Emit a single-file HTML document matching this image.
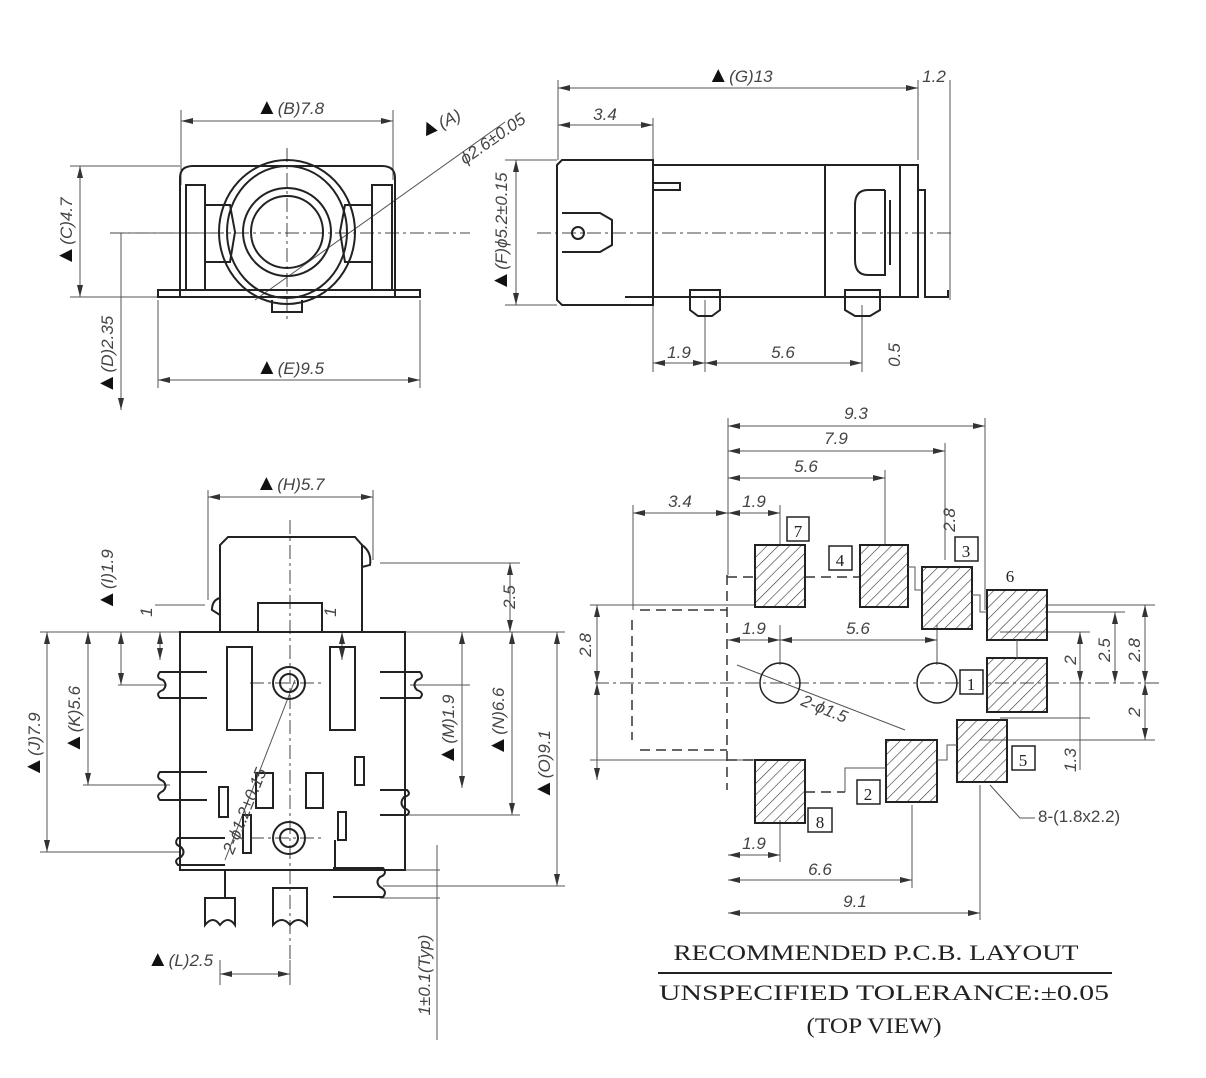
<!DOCTYPE html>
<html><head><meta charset="utf-8"><style>
html,body{margin:0;padding:0;background:#fff}
svg{display:block}
text{font-family:"Liberation Sans",sans-serif;font-style:italic;fill:#444;font-size:17px}
.s{font-family:"Liberation Serif",serif;font-style:normal;fill:#222}
.tr{font-size:22px;font-style:normal;fill:#111}
.o{fill:none;stroke:#222;stroke-width:2}
.t{fill:none;stroke:#555;stroke-width:1}
.d{fill:none;stroke:#444;stroke-width:1;stroke-dasharray:14 4 3 4}
.dd{fill:none;stroke:#333;stroke-width:1.5;stroke-dasharray:10 6}
.p{fill:url(#h);stroke:#222;stroke-width:2}
.b{fill:#fff;stroke:#222;stroke-width:1.5}
</style></head><body>
<svg width="1206" height="1078" viewBox="0 0 1206 1078" xmlns="http://www.w3.org/2000/svg">
<defs>
<pattern id="h" width="8" height="8" patternUnits="userSpaceOnUse" patternTransform="rotate(45)"><line x1="0" y1="0" x2="0" y2="8" stroke="#333" stroke-width="1.2"/></pattern>
<marker id="a" markerWidth="12" markerHeight="6" refX="12" refY="3" orient="auto-start-reverse" markerUnits="userSpaceOnUse"><path d="M0,0 L12,3 L0,6z" fill="#333"/></marker>
</defs>
<g class="t" marker-start="url(#a)" marker-end="url(#a)">
<line x1="181" y1="121" x2="393" y2="121"/>
<line x1="80" y1="166" x2="80" y2="297"/>
<line x1="121" y1="233" x2="121" y2="410" marker-start="none"/>
<line x1="158" y1="380" x2="420" y2="380"/>
<line x1="558" y1="88" x2="918" y2="88"/>
<line x1="558" y1="125" x2="653" y2="125"/>
<line x1="516" y1="160" x2="516" y2="305"/>
<line x1="653" y1="363" x2="705" y2="363"/>
<line x1="705" y1="363" x2="862" y2="363"/>
<line x1="208" y1="497" x2="373" y2="497"/>
<line x1="47" y1="632" x2="47" y2="852"/>
<line x1="88" y1="632" x2="88" y2="785"/>
<line x1="121" y1="632" x2="121" y2="685"/>
<line x1="160" y1="632" x2="160" y2="660"/>
<line x1="342" y1="632" x2="342" y2="660"/>
<line x1="510" y1="563" x2="510" y2="632"/>
<line x1="462" y1="632" x2="462" y2="788"/>
<line x1="512" y1="632" x2="512" y2="815"/>
<line x1="557" y1="632" x2="557" y2="886"/>
<line x1="220" y1="974" x2="290" y2="974"/>
<line x1="728" y1="426" x2="985" y2="426"/>
<line x1="728" y1="451" x2="945" y2="451"/>
<line x1="728" y1="478" x2="885" y2="478"/>
<line x1="633" y1="513" x2="728" y2="513"/>
<line x1="728" y1="513" x2="780" y2="513"/>
<line x1="728" y1="640" x2="780" y2="640"/>
<line x1="780" y1="640" x2="937" y2="640"/>
<line x1="597" y1="605" x2="597" y2="683"/>
<line x1="597" y1="683" x2="597" y2="780"/>
<line x1="1080" y1="632" x2="1080" y2="683"/>
<line x1="1115" y1="612" x2="1115" y2="683"/>
<line x1="1145" y1="605" x2="1145" y2="683"/>
<line x1="1145" y1="683" x2="1145" y2="740"/>
<line x1="728" y1="855" x2="780" y2="855"/>
<line x1="728" y1="880" x2="912" y2="880"/>
<line x1="728" y1="913" x2="980" y2="913"/>
</g>
<g class="t">
<path d="M181 110V185M393 110V180M70 166H180M70 297H158M115 233H210M158 300V388M420 300V388"/>
<path d="M558 80V160M918 80V160M950 80V300M653 118V160M505 160H557M505 305H557M653 300V372M705 300V372M862 305V372"/>
<path d="M208 490V600M373 490V560M40 632H180M83 785H170M40 852H180M118 685H165M155 605H205M380 563H520M405 632H565M410 685H470M405 815H520M383 886H565M220 960V985M290 960V985M437 845V1040M380 870H440M380 898H440"/>
<path d="M728 418V575M985 418V610M945 443V560M885 470V545M633 505V610M780 505V545M780 625V665M937 625V665M590 605H755M590 760H755M1045 612H1125M1045 605H1155M1000 632H1090M1000 718H1090M980 740H1155M1080 683V770M780 820V862M912 805V888M980 785V920"/>
<line x1="737" y1="665" x2="905" y2="730"/>
<line x1="295" y1="680" x2="225" y2="860"/>
<line x1="255" y1="300" x2="505" y2="122"/>
<path d="M990 785L1020 818H1035"/>
<line x1="658" y1="973" x2="1112" y2="973" stroke="#222" stroke-width="2"/>
</g>
<g class="d">
<path d="M110 233H470M287 148V320M537 233H955M595 683H1162M290 520V960M250 683H325M250 838H325"/>
</g>
<g class="o">
<path d="M180 297V178Q180 166 193 166H382Q395 166 395 178V297"/>
<path d="M158 297H420V290H158z"/>
<path d="M186 290V185H205V290M372 290V185H392V290" />
<path d="M205 205H230L235 232L230 262H205M372 205H345L340 232L345 262H372"/>
<ellipse cx="287" cy="232" rx="68" ry="72"/>
<ellipse cx="287" cy="232" rx="60" ry="66"/>
<circle cx="287" cy="232" r="44"/>
<circle cx="287" cy="232" r="36"/>
<path d="M272 300V312H302V300"/>
</g>
<g class="o">
<path d="M557 165L562 160H653V305H562L557 300z"/>
<path d="M653 165H918V297H625"/>
<path d="M825 165V297M900 165V297"/>
<path d="M653 183H680V190H653"/>
<path d="M562 213H600L612 220V245L600 252H562"/>
<circle cx="578" cy="233" r="6"/>
<path d="M885 190H868Q855 190 855 205V260Q855 275 868 275H885V190M890 200V265"/>
<path d="M918 190H925V297H948V290"/>
<path d="M690 290H720V310L712 316H698L690 310z"/>
<path d="M845 290H880V310L870 316H855L845 310z"/>
</g>
<g class="o">
<path d="M220 632V545L228 537H355L362 545V632"/>
<path d="M362 545Q372 552 370 565L362 567"/>
<path d="M220 598Q212 600 212 610L220 615"/>
<path d="M180 632H405V870H180z"/>
<path d="M258 632V603H322V632"/>
<rect x="227" y="647" width="25" height="83"/>
<rect x="330" y="647" width="25" height="83"/>
<rect x="256" y="773" width="17" height="35"/>
<rect x="306" y="773" width="17" height="35"/>
<rect x="219" y="787" width="9" height="30"/>
<rect x="355" y="757" width="9" height="28"/>
<rect x="338" y="812" width="8" height="28"/>
<rect x="243" y="815" width="8" height="38"/>
<circle cx="289" cy="683" r="16"/><circle cx="289" cy="683" r="9"/>
<circle cx="289" cy="838" r="16"/><circle cx="289" cy="838" r="9"/>
<path d="M207 672H160Q155 678 163 680Q168 685 163 690Q155 693 160 698H207"/>
<path d="M207 772H160Q155 778 163 781Q168 786 163 791Q155 795 160 800H207"/>
<path d="M225 838H178Q173 844 181 847Q186 852 181 857Q173 860 178 865H225"/>
<path d="M380 672H420Q425 678 417 680Q412 685 417 690Q425 693 420 698H380"/>
<path d="M380 790H407Q412 795 404 797Q399 803 404 808Q412 811 407 815H380"/>
<path d="M333 868H383Q388 874 380 877Q375 882 380 887Q388 891 383 897H333"/>
<path d="M205 898H235V925Q228 915 220 925Q213 915 205 925z"/>
<path d="M273 888H307V925Q298 915 290 925Q282 915 273 925z"/>
<path d="M225 870V898M335 840V870"/>
</g>
<path class="dd" d="M727 575V790M727 577H755M727 760H755M640 610H727M640 750H727M632 620V740M805 577H860M805 792H845"/>
<circle class="o" cx="780" cy="683" r="20" style="stroke-width:1.5"/>
<circle class="o" cx="937" cy="683" r="20" style="stroke-width:1.5"/>
<rect class="p" x="755" y="545" width="50" height="62"/>
<rect class="p" x="860" y="545" width="48" height="62"/>
<rect class="p" x="922" y="567" width="50" height="62"/>
<rect class="p" x="987" y="590" width="60" height="50"/>
<rect class="p" x="987" y="658" width="60" height="54"/>
<rect class="p" x="957" y="720" width="50" height="62"/>
<rect class="p" x="886" y="740" width="51" height="62"/>
<rect class="p" x="755" y="760" width="50" height="63"/>
<path class="t" d="M908 567H915V590H922M972 595H980V612H987M937 760H947V745H957M845 792V768H886M1017 640V658"/>
<g class="b"><rect x="787" y="517" width="22" height="24"/><rect x="829" y="546" width="23" height="24"/><rect x="955" y="537" width="23" height="24"/><rect x="960" y="670" width="23" height="24"/><rect x="1012" y="746" width="23" height="24"/><rect x="857" y="780" width="23" height="24"/><rect x="808" y="808" width="24" height="24"/></g>
<text class="s" x="798" y="537" font-size="21" text-anchor="middle">7</text>
<text class="s" x="840" y="566" font-size="21" text-anchor="middle">4</text>
<text class="s" x="966" y="557" font-size="21" text-anchor="middle">3</text>
<text class="s" x="1010" y="582" font-size="21" text-anchor="middle">6</text>
<text class="s" x="971" y="690" font-size="21" text-anchor="middle">1</text>
<text class="s" x="1023" y="766" font-size="21" text-anchor="middle">5</text>
<text class="s" x="868" y="800" font-size="21" text-anchor="middle">2</text>
<text class="s" x="820" y="828" font-size="21" text-anchor="middle">8</text>
<g text-anchor="middle">
<text x="290" y="114"><tspan class="tr">▲</tspan>(B)7.8</text>
<text x="290" y="374"><tspan class="tr">▲</tspan>(E)9.5</text>
<text x="740" y="82"><tspan class="tr">▲</tspan>(G)13</text>
<text x="934" y="82">1.2</text>
<text x="605" y="120">3.4</text>
<text x="679" y="358">1.9</text>
<text x="783" y="358">5.6</text>
<text x="290" y="490"><tspan class="tr">▲</tspan>(H)5.7</text>
<text x="180" y="966"><tspan class="tr">▲</tspan>(L)2.5</text>
<text x="856" y="419">9.3</text>
<text x="836" y="444">7.9</text>
<text x="806" y="472">5.6</text>
<text x="680" y="507">3.4</text>
<text x="754" y="507">1.9</text>
<text x="754" y="634">1.9</text>
<text x="858" y="634">5.6</text>
<text x="754" y="849">1.9</text>
<text x="820" y="875">6.6</text>
<text x="855" y="907">9.1</text>
</g>
<text transform="translate(422,138) rotate(-25)"><tspan class="tr">▲</tspan>(A)</text>
<text transform="translate(465,165) rotate(-35)">ϕ2.6±0.05</text>
<text transform="translate(800,705) rotate(22)">2-ϕ1.5</text>
<text transform="translate(233,855) rotate(-68)">2-ϕ1.2±0.15</text>
<text x="1038" y="822" style="font-style:normal" font-size="19">8-(1.8x2.2)</text>
<g text-anchor="middle">
<text transform="translate(72,232) rotate(-90)"><tspan class="tr">▲</tspan>(C)4.7</text>
<text transform="translate(113,355) rotate(-90)"><tspan class="tr">▲</tspan>(D)2.35</text>
<text transform="translate(507,232) rotate(-90)"><tspan class="tr">▲</tspan>(F)ϕ5.2±0.15</text>
<text transform="translate(900,355) rotate(-90)">0.5</text>
<text transform="translate(40,745) rotate(-90)"><tspan class="tr">▲</tspan>(J)7.9</text>
<text transform="translate(80,720) rotate(-90)"><tspan class="tr">▲</tspan>(K)5.6</text>
<text transform="translate(113,580) rotate(-90)"><tspan class="tr">▲</tspan>(I)1.9</text>
<text transform="translate(152,612) rotate(-90)" font-size="13">1</text>
<text transform="translate(336,612) rotate(-90)" font-size="13">1</text>
<text transform="translate(515,597) rotate(-90)">2.5</text>
<text transform="translate(454,730) rotate(-90)"><tspan class="tr">▲</tspan>(M)1.9</text>
<text transform="translate(504,722) rotate(-90)"><tspan class="tr">▲</tspan>(N)6.6</text>
<text transform="translate(550,765) rotate(-90)"><tspan class="tr">▲</tspan>(O)9.1</text>
<text transform="translate(430,975) rotate(-90)">1±0.1(Typ)</text>
<text transform="translate(591,645) rotate(-90)">2.8</text>
<text transform="translate(955,520) rotate(-90)">2.8</text>
<text transform="translate(1076,660) rotate(-90)">2</text>
<text transform="translate(1110,650) rotate(-90)">2.5</text>
<text transform="translate(1140,650) rotate(-90)">2.8</text>
<text transform="translate(1140,712) rotate(-90)">2</text>
<text transform="translate(1076,760) rotate(-90)">1.3</text>
</g>
<text class="s" transform="translate(876,960) scale(1,1.3)" font-size="22" text-anchor="middle" textLength="405" lengthAdjust="spacingAndGlyphs">RECOMMENDED P.C.B. LAYOUT</text>
<text class="s" transform="translate(884,1000) scale(1,1.3)" font-size="22" text-anchor="middle" textLength="450" lengthAdjust="spacingAndGlyphs">UNSPECIFIED TOLERANCE:±0.05</text>
<text class="s" transform="translate(874,1033) scale(1,1.3)" font-size="20" text-anchor="middle" textLength="135" lengthAdjust="spacingAndGlyphs">(TOP VIEW)</text>
</svg>
</body></html>
